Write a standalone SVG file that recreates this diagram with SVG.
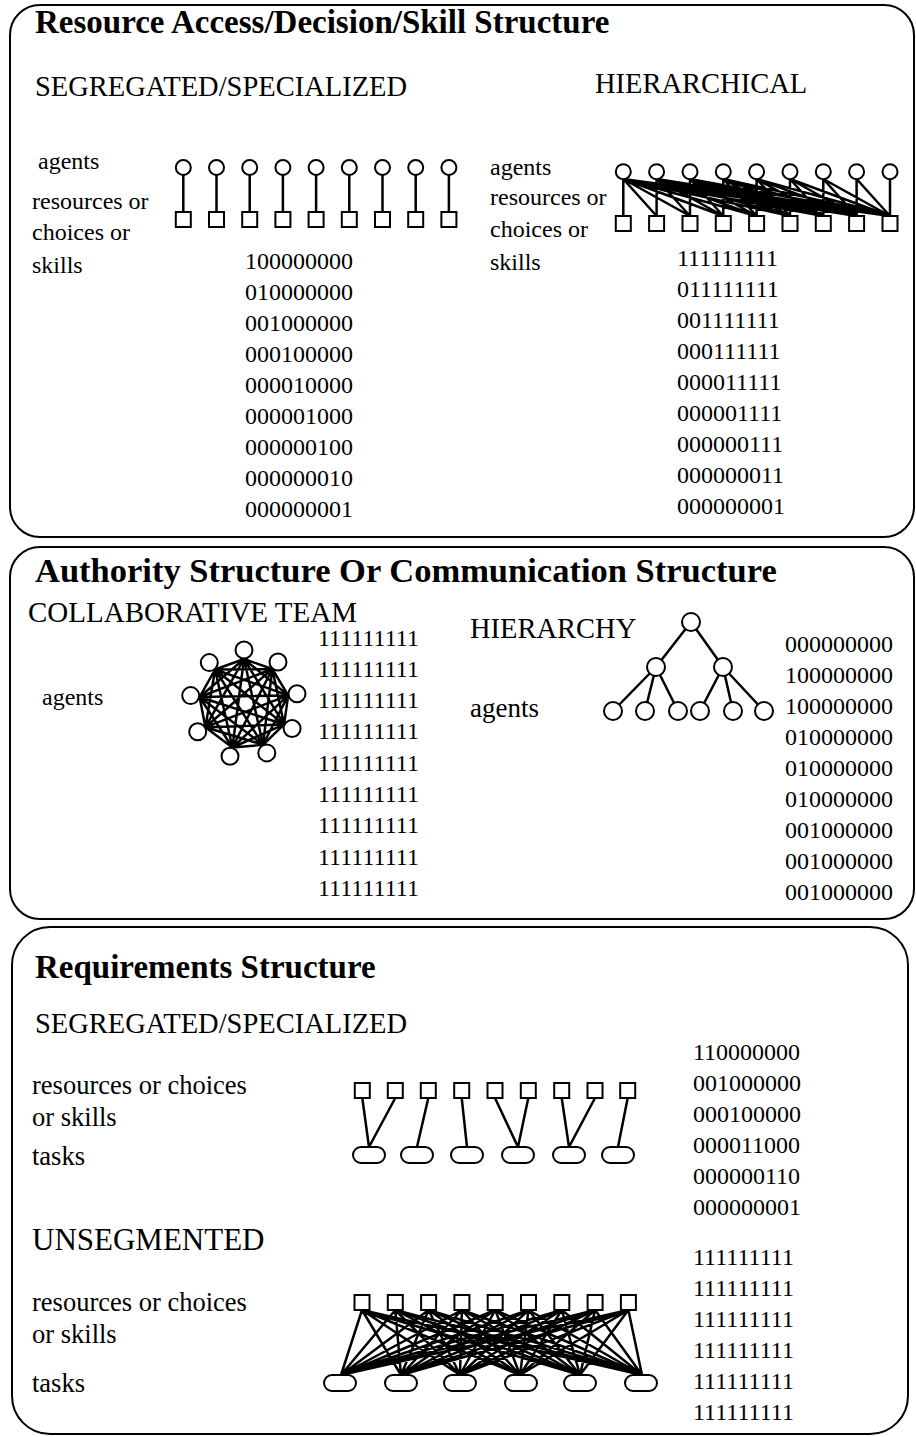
<svg xmlns="http://www.w3.org/2000/svg" width="916" height="1437" viewBox="0 0 916 1437">
<style>
text{font-family:"Liberation Serif","Times New Roman",serif;fill:#000}
.t{font-size:33px;font-weight:bold}
.h{font-size:28.5px}
.l{font-size:24px}
.m{font-size:26.5px}
.box{fill:none;stroke:#000;stroke-width:2}
.n{fill:#fff;stroke:#000;stroke-width:2}
.e{fill:none;stroke:#000;stroke-width:2.5}
</style>
<rect width="916" height="1437" fill="#fff"/>
<g id="panel1">
<rect class="box" x="10" y="5" width="904" height="532" rx="30"/>
<text class="t" x="35" y="33">Resource Access/Decision/Skill Structure</text>
<text class="h" x="35" y="96">SEGREGATED/SPECIALIZED</text>
<text class="h" x="595" y="93">HIERARCHICAL</text>
<text class="l" x="38" y="169">agents</text>
<text class="l" x="32" y="209">resources or</text>
<text class="l" x="32" y="240">choices or</text>
<text class="l" x="32" y="273">skills</text>
<text class="l" x="490" y="175">agents</text>
<text class="l" x="490" y="205">resources or</text>
<text class="l" x="490" y="237">choices or</text>
<text class="l" x="490" y="270">skills</text>
<g class="l">
<text x="245" y="269">100000000</text><text x="245" y="300">010000000</text><text x="245" y="331">001000000</text><text x="245" y="362">000100000</text><text x="245" y="393">000010000</text><text x="245" y="424">000001000</text><text x="245" y="455">000000100</text><text x="245" y="486">000000010</text><text x="245" y="517">000000001</text>
<text x="677" y="266">111111111</text><text x="677" y="297">011111111</text><text x="677" y="328">001111111</text><text x="677" y="359">000111111</text><text x="677" y="390">000011111</text><text x="677" y="421">000001111</text><text x="677" y="452">000000111</text><text x="677" y="483">000000011</text><text x="677" y="514">000000001</text>
</g>
</g>
<g id="connectors">
<path class="e" d="M183.3 175V212M216.5 175V212M249.7 175V212M282.9 175V212M316.1 175V212M349.3 175V212M382.5 175V212M415.7 175V212M448.9 175V212"/>
<path class="e" d="M623.3 179L623.3 216M623.3 179L656.6 216M623.3 179L690 216M623.3 179L723.3 216M623.3 179L756.6 216M623.3 179L790 216M623.3 179L823.3 216M623.3 179L856.6 216M623.3 179L890 216
M656.6 179L656.6 216M656.6 179L690 216M656.6 179L723.3 216M656.6 179L756.6 216M656.6 179L790 216M656.6 179L823.3 216M656.6 179L856.6 216M656.6 179L890 216
M690 179L690 216M690 179L723.3 216M690 179L756.6 216M690 179L790 216M690 179L823.3 216M690 179L856.6 216M690 179L890 216
M723.3 179L723.3 216M723.3 179L756.6 216M723.3 179L790 216M723.3 179L823.3 216M723.3 179L856.6 216M723.3 179L890 216
M756.6 179L756.6 216M756.6 179L790 216M756.6 179L823.3 216M756.6 179L856.6 216M756.6 179L890 216
M790 179L790 216M790 179L823.3 216M790 179L856.6 216M790 179L890 216
M823.3 179L823.3 216M823.3 179L856.6 216M823.3 179L890 216
M856.6 179L856.6 216M856.6 179L890 216
M890 179L890 216"/>
<path class="e" d="M244 659L272.3 669M244 659L288.2 695.4M244 659L284.1 724.4M244 659L263 744.8M244 659L232.4 747.5M244 659L205.4 727.2M244 659L199.6 697M244 659L215.1 669.5
M272.3 669L288.2 695.4M272.3 669L284.1 724.4M272.3 669L263 744.8M272.3 669L232.4 747.5M272.3 669L205.4 727.2M272.3 669L199.6 697M272.3 669L215.1 669.5
M288.2 695.4L284.1 724.4M288.2 695.4L263 744.8M288.2 695.4L232.4 747.5M288.2 695.4L205.4 727.2M288.2 695.4L199.6 697M288.2 695.4L215.1 669.5
M284.1 724.4L263 744.8M284.1 724.4L232.4 747.5M284.1 724.4L205.4 727.2M284.1 724.4L199.6 697M284.1 724.4L215.1 669.5
M263 744.8L232.4 747.5M263 744.8L205.4 727.2M263 744.8L199.6 697M263 744.8L215.1 669.5
M232.4 747.5L205.4 727.2M232.4 747.5L199.6 697M232.4 747.5L215.1 669.5
M205.4 727.2L199.6 697M205.4 727.2L215.1 669.5
M199.6 697L215.1 669.5"/>
<path class="e" d="M691 622L656 667M691 622L723 667M656 667L613 711M656 667L645 711M656 667L678 711M723 667L700 711M723 667L733 711M723 667L764 711"/>
<path class="e" d="M362.3 1098L369 1147M395.3 1098L369 1147M428.3 1098L417 1147M461.7 1098L467 1147M495 1098L518 1147M528.3 1098L518 1147M561.7 1098L569 1147M595 1098L569 1147M627.7 1098L618 1147"/>
<path class="e" d="M362 1310L341 1375M395.3 1310L341 1375M428.6 1310L341 1375M461.9 1310L341 1375M495.2 1310L341 1375M528.5 1310L341 1375M561.8 1310L341 1375M595.1 1310L341 1375M628.4 1310L341 1375
M362 1310L401 1375M395.3 1310L401 1375M428.6 1310L401 1375M461.9 1310L401 1375M495.2 1310L401 1375M528.5 1310L401 1375M561.8 1310L401 1375M595.1 1310L401 1375M628.4 1310L401 1375
M362 1310L460 1375M395.3 1310L460 1375M428.6 1310L460 1375M461.9 1310L460 1375M495.2 1310L460 1375M528.5 1310L460 1375M561.8 1310L460 1375M595.1 1310L460 1375M628.4 1310L460 1375
M362 1310L520 1375M395.3 1310L520 1375M428.6 1310L520 1375M461.9 1310L520 1375M495.2 1310L520 1375M528.5 1310L520 1375M561.8 1310L520 1375M595.1 1310L520 1375M628.4 1310L520 1375
M362 1310L580 1375M395.3 1310L580 1375M428.6 1310L580 1375M461.9 1310L580 1375M495.2 1310L580 1375M528.5 1310L580 1375M561.8 1310L580 1375M595.1 1310L580 1375M628.4 1310L580 1375
M362 1310L642 1375M395.3 1310L642 1375M428.6 1310L642 1375M461.9 1310L642 1375M495.2 1310L642 1375M528.5 1310L642 1375M561.8 1310L642 1375M595.1 1310L642 1375M628.4 1310L642 1375"/>
</g>
<g id="seg-agents">
<circle class="n" cx="183.3" cy="167.5" r="7.5"/><circle class="n" cx="216.5" cy="167.5" r="7.5"/><circle class="n" cx="249.7" cy="167.5" r="7.5"/><circle class="n" cx="282.9" cy="167.5" r="7.5"/><circle class="n" cx="316.1" cy="167.5" r="7.5"/><circle class="n" cx="349.3" cy="167.5" r="7.5"/><circle class="n" cx="382.5" cy="167.5" r="7.5"/><circle class="n" cx="415.7" cy="167.5" r="7.5"/><circle class="n" cx="448.9" cy="167.5" r="7.5"/>
</g>
<g id="seg-resources">
<rect class="n" x="175.8" y="212" width="15" height="15"/><rect class="n" x="209" y="212" width="15" height="15"/><rect class="n" x="242.2" y="212" width="15" height="15"/><rect class="n" x="275.4" y="212" width="15" height="15"/><rect class="n" x="308.6" y="212" width="15" height="15"/><rect class="n" x="341.8" y="212" width="15" height="15"/><rect class="n" x="375" y="212" width="15" height="15"/><rect class="n" x="408.2" y="212" width="15" height="15"/><rect class="n" x="441.4" y="212" width="15" height="15"/>
</g>
<g id="hier-agents">
<circle class="n" cx="623.3" cy="171.7" r="7.5"/><circle class="n" cx="656.6" cy="171.7" r="7.5"/><circle class="n" cx="690" cy="171.7" r="7.5"/><circle class="n" cx="723.3" cy="171.7" r="7.5"/><circle class="n" cx="756.6" cy="171.7" r="7.5"/><circle class="n" cx="790" cy="171.7" r="7.5"/><circle class="n" cx="823.3" cy="171.7" r="7.5"/><circle class="n" cx="856.6" cy="171.7" r="7.5"/><circle class="n" cx="890" cy="171.7" r="7.5"/>
</g>
<g id="hier-resources">
<rect class="n" x="615.8" y="216" width="15" height="15"/><rect class="n" x="649.1" y="216" width="15" height="15"/><rect class="n" x="682.5" y="216" width="15" height="15"/><rect class="n" x="715.8" y="216" width="15" height="15"/><rect class="n" x="749.1" y="216" width="15" height="15"/><rect class="n" x="782.5" y="216" width="15" height="15"/><rect class="n" x="815.8" y="216" width="15" height="15"/><rect class="n" x="849.1" y="216" width="15" height="15"/><rect class="n" x="882.5" y="216" width="15" height="15"/>
</g>
<g id="panel2">
<rect class="box" x="10" y="547" width="904" height="372" rx="30"/>
<text class="t" x="35" y="582" style="font-size:34.5px">Authority Structure Or Communication Structure</text>
<text class="h" x="28" y="622" style="font-size:29px">COLLABORATIVE TEAM</text>
<text class="h" x="470" y="638">HIERARCHY</text>
<text class="l" x="42" y="705">agents</text>
<text x="470" y="717" style="font-size:27px">agents</text>
<g class="l">
<text x="318" y="646">111111111</text><text x="318" y="677">111111111</text><text x="318" y="708">111111111</text><text x="318" y="739">111111111</text><text x="318" y="771">111111111</text><text x="318" y="802">111111111</text><text x="318" y="833">111111111</text><text x="318" y="865">111111111</text><text x="318" y="896">111111111</text>
<text x="785" y="652">000000000</text><text x="785" y="683">100000000</text><text x="785" y="714">100000000</text><text x="785" y="745">010000000</text><text x="785" y="776">010000000</text><text x="785" y="807">010000000</text><text x="785" y="838">001000000</text><text x="785" y="869">001000000</text><text x="785" y="900">001000000</text>
</g>
</g>
<g id="team-agents">
<circle class="n" cx="244" cy="650" r="8.5"/><circle class="n" cx="278" cy="662" r="8.5"/><circle class="n" cx="297" cy="693.7" r="8.5"/><circle class="n" cx="292.1" cy="728.5" r="8.5"/><circle class="n" cx="266.8" cy="752.9" r="8.5"/><circle class="n" cx="230" cy="756.2" r="8.5"/><circle class="n" cx="197.7" cy="731.8" r="8.5"/><circle class="n" cx="190.7" cy="695.6" r="8.5"/><circle class="n" cx="209.3" cy="662.6" r="8.5"/>
</g>
<g id="hierarchy-agents">
<circle class="n" cx="691" cy="622" r="9"/><circle class="n" cx="656" cy="667" r="9"/><circle class="n" cx="723" cy="667" r="9"/>
<circle class="n" cx="613" cy="711" r="9"/><circle class="n" cx="645" cy="711" r="9"/><circle class="n" cx="678" cy="711" r="9"/><circle class="n" cx="700" cy="711" r="9"/><circle class="n" cx="733" cy="711" r="9"/><circle class="n" cx="764" cy="711" r="9"/>
</g>
<g id="panel3">
<rect class="box" x="12" y="927" width="896" height="507" rx="38"/>
<text class="t" x="35" y="978">Requirements Structure</text>
<text class="h" x="35" y="1033">SEGREGATED/SPECIALIZED</text>
<text class="h" x="32" y="1250" style="font-size:31px">UNSEGMENTED</text>
<text class="m" x="32" y="1094">resources or choices</text>
<text class="m" x="32" y="1126">or skills</text>
<text class="m" x="32" y="1165">tasks</text>
<text class="m" x="32" y="1311">resources or choices</text>
<text class="m" x="32" y="1343">or skills</text>
<text class="m" x="32" y="1392">tasks</text>
<g class="l">
<text x="693" y="1060">110000000</text><text x="693" y="1091">001000000</text><text x="693" y="1122">000100000</text><text x="693" y="1153">000011000</text><text x="693" y="1184">000000110</text><text x="693" y="1215">000000001</text>
<text x="693" y="1265">111111111</text><text x="693" y="1296">111111111</text><text x="693" y="1327">111111111</text><text x="693" y="1358">111111111</text><text x="693" y="1389">111111111</text><text x="693" y="1420">111111111</text>
</g>
</g>
<g id="req-seg-resources">
<rect class="n" x="354.8" y="1083" width="15" height="15"/><rect class="n" x="387.8" y="1083" width="15" height="15"/><rect class="n" x="420.8" y="1083" width="15" height="15"/><rect class="n" x="454.2" y="1083" width="15" height="15"/><rect class="n" x="487.5" y="1083" width="15" height="15"/><rect class="n" x="520.8" y="1083" width="15" height="15"/><rect class="n" x="554.2" y="1083" width="15" height="15"/><rect class="n" x="587.5" y="1083" width="15" height="15"/><rect class="n" x="620.2" y="1083" width="15" height="15"/>
</g>
<g id="req-seg-tasks">
<rect class="n" x="353" y="1147" width="32" height="16" rx="8"/><rect class="n" x="401" y="1147" width="32" height="16" rx="8"/><rect class="n" x="451" y="1147" width="32" height="16" rx="8"/><rect class="n" x="502" y="1147" width="32" height="16" rx="8"/><rect class="n" x="553" y="1147" width="32" height="16" rx="8"/><rect class="n" x="602" y="1147" width="32" height="16" rx="8"/>
</g>
<g id="req-unseg-resources">
<rect class="n" x="354.5" y="1295" width="15" height="15"/><rect class="n" x="387.8" y="1295" width="15" height="15"/><rect class="n" x="421.1" y="1295" width="15" height="15"/><rect class="n" x="454.4" y="1295" width="15" height="15"/><rect class="n" x="487.7" y="1295" width="15" height="15"/><rect class="n" x="521" y="1295" width="15" height="15"/><rect class="n" x="554.3" y="1295" width="15" height="15"/><rect class="n" x="587.6" y="1295" width="15" height="15"/><rect class="n" x="620.9" y="1295" width="15" height="15"/>
</g>
<g id="req-unseg-tasks">
<rect class="n" x="324" y="1375" width="32" height="16" rx="8"/><rect class="n" x="385" y="1375" width="32" height="16" rx="8"/><rect class="n" x="444" y="1375" width="32" height="16" rx="8"/><rect class="n" x="505" y="1375" width="32" height="16" rx="8"/><rect class="n" x="564" y="1375" width="32" height="16" rx="8"/><rect class="n" x="625" y="1375" width="32" height="16" rx="8"/>
</g>
</svg>
